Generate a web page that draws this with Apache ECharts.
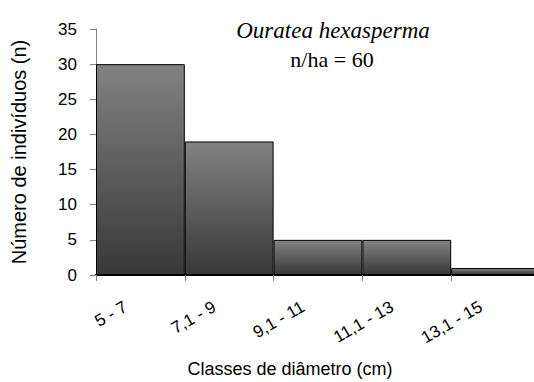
<!DOCTYPE html>
<html>
<head>
<meta charset="utf-8">
<script src="https://cdn.jsdelivr.net/npm/echarts@6/dist/echarts.min.js"></script>
<style>
html,body{margin:0;padding:0;background:#fff;}
#chart{width:534px;height:382px;}
</style>
</head>
<body>
<div id="chart"></div>
<script>
const categories = ['5 - 7', '7,1 - 9', '9,1 - 11', '11,1 - 13', '13,1 - 15'];
const counts = [30, 19, 5, 5, 1];
const yMin = 0, yMax = 35, yStep = 5;
const speciesName = 'Ouratea hexasperma';
const densityText = 'n/ha = 60';
const xTitle = 'Classes de diâmetro (cm)';
const yTitle = 'Número de indivíduos (n)';

const chart = echarts.init(document.getElementById('chart'), null, {renderer: 'svg'});
const sans = 'Liberation Sans, Arial, sans-serif';
const serif = 'Liberation Serif, Times New Roman, serif';
chart.setOption({
  animation: false,
  backgroundColor: '#fff',
  title: [
    {text: speciesName, left: 328, top: 14, textAlign: 'center',
     textStyle: {fontFamily: serif, fontStyle: 'italic', fontWeight: 'normal', fontSize: 23, color: '#000'}},
    {text: densityText, left: 327, top: 43, textAlign: 'center',
     textStyle: {fontFamily: serif, fontWeight: 'normal', fontSize: 22, color: '#000'}}
  ],
  grid: {left: 96, top: 29, bottom: 107, right: -6, containLabel: false, outerBoundsMode: 'none'},
  xAxis: {
    type: 'category',
    data: categories,
    boundaryGap: true,
    name: xTitle,
    nameLocation: 'middle',
    nameGap: 85,
    nameTextStyle: {fontFamily: sans, fontSize: 18, color: '#000', padding: [0, 56, 0, 0]},
    axisLine: {show: true, lineStyle: {color: '#000', width: 2}},
    axisTick: {show: true, alignWithLabel: false, length: 6, lineStyle: {color: '#808080', width: 1}},
    axisLabel: {rotate: 30, interval: 0, margin: 22, fontFamily: sans, fontSize: 17, color: '#000', padding: [0, 17, 0, 0]},
    splitLine: {show: false}
  },
  yAxis: {
    type: 'value',
    min: yMin, max: yMax, interval: yStep,
    name: yTitle,
    nameLocation: 'middle',
    nameGap: 67,
    nameTextStyle: {fontFamily: sans, fontSize: 20, color: '#000'},
    axisLine: {show: true, lineStyle: {color: '#808080', width: 1}},
    axisTick: {show: true, length: 6, lineStyle: {color: '#808080', width: 1}},
    axisLabel: {margin: 19, fontFamily: sans, fontSize: 17, color: '#000'},
    splitLine: {show: false}
  },
  series: [{
    type: 'bar',
    data: counts,
    barCategoryGap: '0%',
    itemStyle: {
      borderColor: '#000',
      borderWidth: 1,
      color: new echarts.graphic.LinearGradient(0, 0, 0, 1, [
        {offset: 0, color: '#828282'},
        {offset: 1, color: '#383838'}
      ])
    }
  }]
});
</script>
</body>
</html>
